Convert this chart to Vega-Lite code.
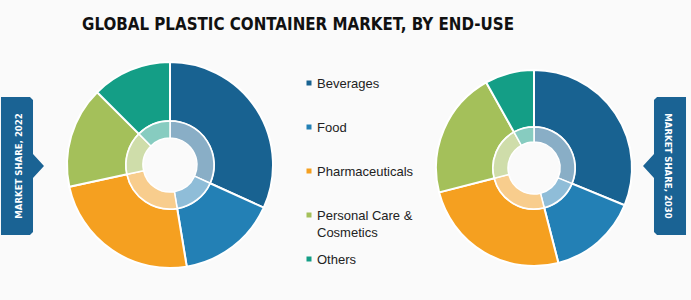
{
  "$schema": "https://vega.github.io/schema/vega-lite/v6.json",
  "width": 691,
  "height": 300,
  "autosize": {"type": "fit", "contains": "padding"},
  "padding": 0,
  "background": "#fafafa",
  "config": {"view": {"stroke": null}},
  "datasets": {
    "share": [
      {"year": 2022, "cat": "Beverages", "share": 31.8},
      {"year": 2022, "cat": "Food", "share": 15.6},
      {"year": 2022, "cat": "Pharmaceuticals", "share": 24.2},
      {"year": 2022, "cat": "Personal Care & Cosmetics", "share": 15.9},
      {"year": 2022, "cat": "Others", "share": 12.5},
      {"year": 2030, "cat": "Beverages", "share": 31.2},
      {"year": 2030, "cat": "Food", "share": 14.8},
      {"year": 2030, "cat": "Pharmaceuticals", "share": 25.0},
      {"year": 2030, "cat": "Personal Care & Cosmetics", "share": 20.9},
      {"year": 2030, "cat": "Others", "share": 8.1}
    ],
    "tabs": [
      {"year": 2022, "label": "MARKET SHARE, 2022"},
      {"year": 2030, "label": "MARKET SHARE, 2030"}
    ],
    "heading": [
      {"title": "GLOBAL PLASTIC CONTAINER MARKET, BY END-USE"}
    ]
  },
  "layer": [
    {
      "data": {"name": "heading"},
      "mark": {"type": "text", "align": "left", "baseline": "alphabetic", "font": "DejaVu Sans Condensed, Roboto Condensed, Roboto, sans-serif", "fontSize": 16.8, "fontWeight": "bold", "color": "#111111"},
      "encoding": {
        "text": {"field": "title"},
        "x": {"value": 81},
        "y": {"value": 30}
      }
    },
    {
      "data": {"name": "share"},
      "transform": [
        {"filter": "datum.year === 2022"},
        {"window": [{"op": "row_number", "as": "idx"}]}
      ],
      "encoding": {
        "x": {"field": "year", "type": "quantitative", "scale": {"domain": [2022, 2030], "range": [169, 533], "nice": false}, "axis": null},
        "y": {"field": "year", "type": "quantitative", "scale": {"domain": [2022, 2030], "range": [165, 168], "nice": false}, "axis": null},
        "theta": {"field": "share", "type": "quantitative", "stack": true},
        "order": {"field": "idx", "type": "quantitative"},
        "color": {
          "field": "cat", "type": "nominal",
          "scale": {"domain": ["Beverages", "Food", "Pharmaceuticals", "Personal Care & Cosmetics", "Others"], "range": ["#186291", "#2380b5", "#f5a020", "#a4c05a", "#149e86"]},
          "legend": null
        }
      },
      "layer": [
        {"mark": {"type": "arc", "radius": 103, "radius2": 44, "stroke": "#ffffff", "strokeWidth": 2}},
        {"mark": {"type": "arc", "radius": 44, "radius2": 27, "fillOpacity": 0.5, "stroke": "#ffffff", "strokeWidth": 1.5}}
      ]
    },
    {
      "data": {"name": "share"},
      "transform": [
        {"filter": "datum.year === 2030"},
        {"window": [{"op": "row_number", "as": "idx"}]}
      ],
      "encoding": {
        "x": {"field": "year", "type": "quantitative", "scale": {"domain": [2022, 2030], "range": [169, 533], "nice": false}, "axis": null},
        "y": {"field": "year", "type": "quantitative", "scale": {"domain": [2022, 2030], "range": [165, 168], "nice": false}, "axis": null},
        "theta": {"field": "share", "type": "quantitative", "stack": true},
        "order": {"field": "idx", "type": "quantitative"},
        "color": {
          "field": "cat", "type": "nominal",
          "scale": {"domain": ["Beverages", "Food", "Pharmaceuticals", "Personal Care & Cosmetics", "Others"], "range": ["#186291", "#2380b5", "#f5a020", "#a4c05a", "#149e86"]},
          "legend": null
        }
      },
      "layer": [
        {"mark": {"type": "arc", "radius": 98, "radius2": 41, "stroke": "#ffffff", "strokeWidth": 2}},
        {"mark": {"type": "arc", "radius": 41, "radius2": 26, "fillOpacity": 0.5, "stroke": "#ffffff", "strokeWidth": 1.5}}
      ]
    },
    {
      "data": {"name": "tabs"},
      "encoding": {
        "x": {"field": "year", "type": "quantitative", "scale": {"domain": [2022, 2030], "range": [18, 667], "nice": false}, "axis": null},
        "y": {"value": 166}
      },
      "layer": [
        {
          "mark": {
            "type": "point",
            "shape": "M -0.261 -1 L 0.159 -1 L 0.203 -0.957 L 0.203 -0.174 L 0.362 0 L 0.203 0.174 L 0.203 0.957 L 0.159 1 L -0.261 1 Z",
            "filled": true,
            "size": 19044,
            "color": "#1a6394",
            "opacity": 1,
            "strokeWidth": 0
          },
          "encoding": {
            "angle": {"field": "year", "type": "quantitative", "scale": {"domain": [2022, 2030], "range": [0, 180]}}
          }
        },
        {
          "mark": {"type": "text", "font": "DejaVu Sans Condensed, Roboto Condensed, Roboto, sans-serif", "fontWeight": "bold", "fontSize": 9.5, "color": "#ffffff", "align": "center", "baseline": "middle"},
          "encoding": {
            "text": {"field": "label"},
            "angle": {"field": "year", "type": "quantitative", "scale": {"domain": [2022, 2030], "range": [270, 90]}}
          }
        }
      ],
      "resolve": {"scale": {"angle": "independent"}}
    },
    {
      "data": {"name": "share"},
      "transform": [{"filter": "datum.year === 2022"}],
      "encoding": {
        "y": {"field": "cat", "type": "nominal", "scale": {"type": "point", "padding": 0, "domain": ["Beverages", "Food", "Pharmaceuticals", "Personal Care & Cosmetics", "Others"], "range": [83, 259]}, "axis": null}
      },
      "layer": [
        {
          "mark": {"type": "square", "size": 25, "opacity": 1},
          "encoding": {
            "x": {"value": 308},
            "color": {
              "field": "cat", "type": "nominal",
              "scale": {"domain": ["Beverages", "Food", "Pharmaceuticals", "Personal Care & Cosmetics", "Others"], "range": ["#186291", "#2380b5", "#f5a020", "#a4c05a", "#149e86"]},
              "legend": null
            }
          }
        },
        {
          "mark": {"type": "text", "align": "left", "baseline": "alphabetic", "dy": 4.5, "font": "Liberation Sans", "fontSize": 13, "color": "#222222", "lineHeight": 17},
          "encoding": {
            "x": {"value": 316},
            "text": {"field": "cat", "condition": {"test": "datum.cat === 'Personal Care & Cosmetics'", "value": ["Personal Care &", "Cosmetics"]}}
          }
        }
      ]
    }
  ],
  "resolve": {"scale": {"x": "independent", "y": "independent", "theta": "independent"}}
}
